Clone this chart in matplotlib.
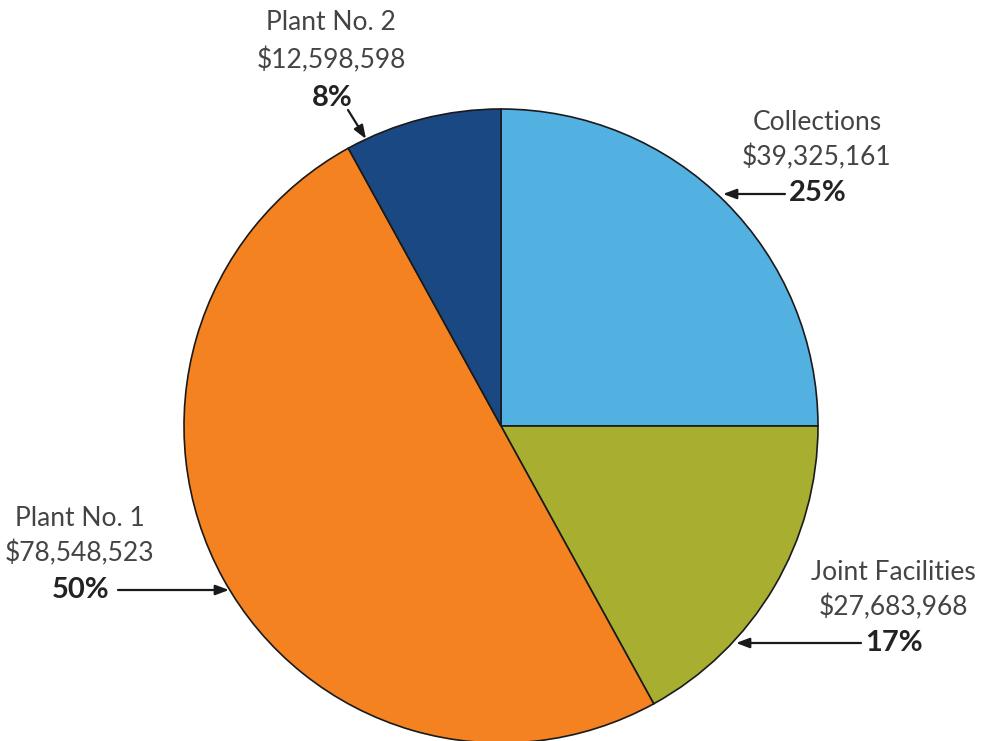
import matplotlib
matplotlib.use("Agg")
import matplotlib.pyplot as plt

categories = ["Collections", "Joint Facilities", "Plant No. 1", "Plant No. 2"]
amounts = [39325161, 27683968, 78548523, 12598598]
percents = [25, 17, 50, 8]
colors = ["#52B1E1", "#A8AE2F", "#F48221", "#1A4882"]

W, H = 982, 741
fig = plt.figure(figsize=(W / 100, H / 100), dpi=100)
ax = fig.add_axes([0, 0, 1, 1])

cx, cy, r = 501, H - 426, 317
ax.pie(percents, colors=colors, startangle=90, counterclock=False,
       center=(cx, cy), radius=r, frame=True,
       wedgeprops=dict(edgecolor="#1a1a1a", linewidth=1.2))
ax.set_xlim(0, W)
ax.set_ylim(0, H)
ax.set_aspect("equal")
ax.axis("off")

txt = "#444444"
fam = ["Lato", "DejaVu Sans"]

# label block: x center, then rows (from top) of name, amount and percent
blocks = {
    "Collections": (817, 122, 157, 193),
    "Joint Facilities": (893, 573, 607, 643),
    "Plant No. 1": (80, 518, 553, 590),
    "Plant No. 2": (331, 22, 60, 98),
}
# arrows: tail -> head, pixel coords from top
arrows = {
    "Collections": ((785, 194), (723, 194)),
    "Joint Facilities": ((861, 643), (736, 643)),
    "Plant No. 1": ((118, 590), (229, 590)),
    "Plant No. 2": ((348, 110), (366, 139)),
}

for name, amt, pct in zip(categories, amounts, percents):
    x, y1, y2, y3 = blocks[name]
    ax.text(x, H - y1, name, ha="center", va="center", fontsize=19,
            color=txt, family=fam, fontweight="normal")
    ax.text(x, H - y2, f"${amt:,}", ha="center", va="center", fontsize=19,
            color=txt, family=fam, fontweight="normal")
    ax.text(x + 1, H - y3, f"{pct}%", ha="center", va="center", fontsize=21,
            color="#222222", family=fam, fontweight="bold")
    (tx, ty), (hx, hy) = arrows[name]
    ax.annotate("", xy=(hx, H - hy), xytext=(tx, H - ty),
                arrowprops=dict(arrowstyle="-|>,head_length=0.8,head_width=0.3",
                                color="#1a1a1a", lw=1.6, shrinkA=0, shrinkB=0))

fig.savefig("out.png", dpi=100)
